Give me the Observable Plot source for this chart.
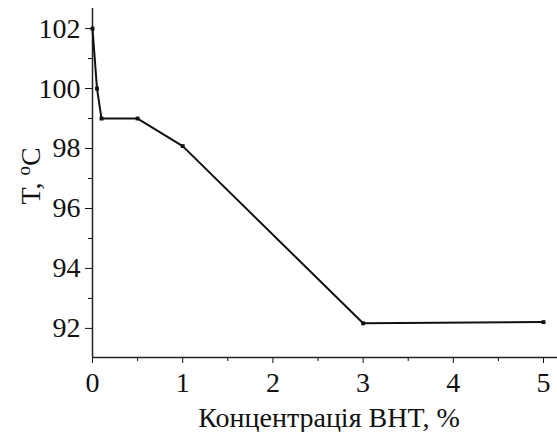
<!DOCTYPE html>
<html>
<head>
<meta charset="utf-8">
<script src="https://cdn.jsdelivr.net/npm/d3@7"></script>
<script src="https://cdn.jsdelivr.net/npm/@observablehq/plot@0.6"></script>
<style>
  html, body { margin: 0; padding: 0; background: #fff; }
  #chart svg { display: block; }
</style>
</head>
<body>
<div id="chart"></div>
<script>
const conc = [0, 0.05, 0.1, 0.5, 1, 3, 5];
const temp = [102, 100, 99, 99, 98.08, 92.17, 92.21];
const xTicks = [0, 1, 2, 3, 4, 5];
const xMinor = [0.5, 1.5, 2.5, 3.5, 4.5];
const yTicks = [92, 94, 96, 98, 100, 102];
const yMinor = [93, 95, 97, 99, 101];
const xLabel = "Концентрація BHT, %";
const yLabelMain = "T, ";
const yLabelSup = "o";
const yLabelUnit = "C";

const data = conc.map((c, i) => ({c, t: temp[i]}));
const yMin = 91.03, yMax = 102.67;
const serif = "'Liberation Serif', 'Times New Roman', Times, 'DejaVu Serif', serif";

const plot = Plot.plot({
  width: 557,
  height: 432,
  marginLeft: 92,
  marginRight: 0,
  marginTop: 8,
  marginBottom: 75,
  style: {fontFamily: serif, fontSize: "28px", color: "#111", background: "#fff"},
  x: {domain: [0, 5.155]},
  y: {domain: [yMin, yMax]},
  marks: [
    Plot.axisX({ticks: xTicks, tickSize: 6, tickPadding: 9, fontSize: 28, fontFamily: serif, tickFormat: d => String(d), label: null}),
    Plot.axisX({ticks: xMinor, tickSize: 4, text: null, label: null}),
    Plot.axisY({ticks: yTicks, tickSize: 7, tickPadding: 5, fontSize: 28, fontFamily: serif, tickFormat: d => String(d), label: null}),
    Plot.axisY({ticks: yMinor, tickSize: 4, text: null, label: null}),
    Plot.ruleX([0], {stroke: "#222", strokeWidth: 1.5}),
    Plot.ruleY([yMin], {stroke: "#222", strokeWidth: 1.5}),
    Plot.line(data, {x: "c", y: "t", stroke: "#111", strokeWidth: 2}),
    Plot.dot(data, {x: "c", y: "t", symbol: "square", r: 2.2, fill: "#111", stroke: "none"}),
    Plot.text([xLabel], {frameAnchor: "bottom", text: d => d, dx: 4, dy: 69, fontSize: 28, fontFamily: serif, lineAnchor: "bottom", fill: "#111"})
  ]
});
document.getElementById("chart").appendChild(plot);

const svg = d3.select(plot);
svg.selectAll("text").style("font-family", serif, "important").style("font-variant", "normal");

// rotated y-axis label with superscript
const lab = svg.append("text")
  .attr("transform", "translate(40,176) rotate(-90)")
  .attr("text-anchor", "middle")
  .attr("font-size", "28px")
  .attr("fill", "#111")
  .style("font-family", serif);
lab.append("tspan").text(yLabelMain);
lab.append("tspan").attr("font-size", "19px").attr("dy", "-10").text(yLabelSup);
lab.append("tspan").attr("dy", "10").text(yLabelUnit);
</script>
</body>
</html>
